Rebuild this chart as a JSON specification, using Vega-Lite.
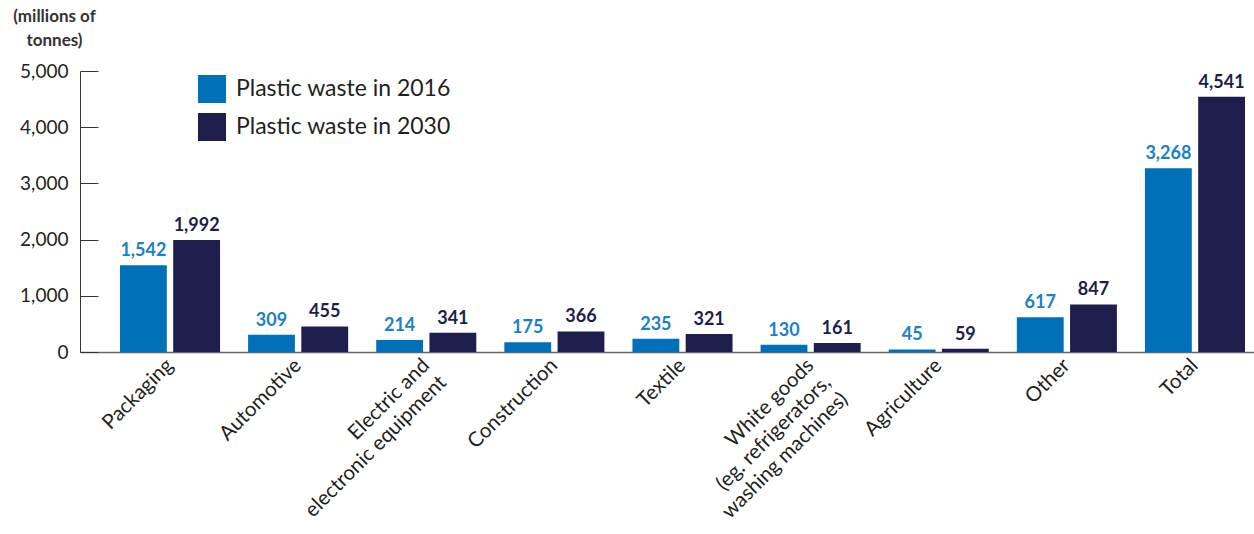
{
  "$schema": "https://vega.github.io/schema/vega-lite/v6.json",
  "autosize": {"type": "none"},
  "padding": {"left": 80, "top": 71, "right": 0, "bottom": 182},
  "width": 1205,
  "height": 281,
  "background": "white",
  "config": {
    "font": "Lato",
    "view": {"stroke": null},
    "axis": {"grid": false}
  },
  "data": {
    "values": [
      {"sector": "Packaging", "year": "Plastic waste in 2016", "value": 1542},
      {"sector": "Packaging", "year": "Plastic waste in 2030", "value": 1992},
      {"sector": "Automotive", "year": "Plastic waste in 2016", "value": 309},
      {"sector": "Automotive", "year": "Plastic waste in 2030", "value": 455},
      {"sector": "Electric and\nelectronic equipment", "year": "Plastic waste in 2016", "value": 214},
      {"sector": "Electric and\nelectronic equipment", "year": "Plastic waste in 2030", "value": 341},
      {"sector": "Construction", "year": "Plastic waste in 2016", "value": 175},
      {"sector": "Construction", "year": "Plastic waste in 2030", "value": 366},
      {"sector": "Textile", "year": "Plastic waste in 2016", "value": 235},
      {"sector": "Textile", "year": "Plastic waste in 2030", "value": 321},
      {"sector": "White goods\n(eg. refrigerators,\nwashing machines)", "year": "Plastic waste in 2016", "value": 130},
      {"sector": "White goods\n(eg. refrigerators,\nwashing machines)", "year": "Plastic waste in 2030", "value": 161},
      {"sector": "Agriculture", "year": "Plastic waste in 2016", "value": 45},
      {"sector": "Agriculture", "year": "Plastic waste in 2030", "value": 59},
      {"sector": "Other", "year": "Plastic waste in 2016", "value": 617},
      {"sector": "Other", "year": "Plastic waste in 2030", "value": 847},
      {"sector": "Total", "year": "Plastic waste in 2016", "value": 3268},
      {"sector": "Total", "year": "Plastic waste in 2030", "value": 4541}
    ]
  },
  "encoding": {
    "x": {
      "field": "sector",
      "type": "nominal",
      "sort": null,
      "scale": {"paddingInner": 0.219, "paddingOuter": 0.312},
      "axis": {
        "title": null,
        "labelAngle": -45,
        "labelAlign": "right",
        "labelBaseline": "middle",
        "labelFontSize": 20.5,
        "labelColor": "#231f20",
        "labelExpr": "split(datum.label, '\\n')",
        "labelLineHeight": 24,
        "labelPadding": 10,
        "ticks": false,
        "domainColor": "#666666",
        "domainWidth": 1.5,
        "labelLimit": 0
      }
    },
    "xOffset": {
      "field": "year",
      "type": "nominal",
      "scale": {"paddingInner": 0.12, "paddingOuter": 0}
    },
    "y": {
      "field": "value",
      "type": "quantitative",
      "scale": {"domain": [0, 5000], "nice": false},
      "axis": {
        "values": [0, 1000, 2000, 3000, 4000, 5000],
        "format": ",.0f",
        "title": ["(millions of", "tonnes)"],
        "titleAngle": 0,
        "titleAlign": "center",
        "titleBaseline": "top",
        "titleX": -26,
        "titleY": -63,
        "titleFontSize": 17,
        "titleFontWeight": "bold",
        "titleColor": "#333333",
        "titleLineHeight": 24,
        "labelFontSize": 19,
        "labelColor": "#231f20",
        "tickSize": -18,
        "tickColor": "#333333",
        "labelPadding": 30,
        "domainColor": "#333333",
        "domainWidth": 1
      }
    }
  },
  "layer": [
    {
      "mark": {"type": "bar"},
      "encoding": {
        "color": {
          "field": "year",
          "type": "nominal",
          "scale": {"range": ["#0070B8", "#1E1E4C"]},
          "legend": {
            "title": null,
            "orient": "none",
            "legendX": 118,
            "legendY": 4,
            "padding": 0,
            "symbolType": "square",
            "symbolSize": 784,
            "symbolStrokeWidth": 0,
            "rowPadding": 10,
            "labelFontSize": 23,
            "labelColor": "#231f20",
            "labelOffset": 10,
            "labelLimit": 0
          }
        }
      }
    },
    {
      "mark": {"type": "text", "dy": -9, "baseline": "alphabetic", "fontSize": 18, "fontWeight": "bold"},
      "encoding": {
        "text": {"field": "value", "type": "quantitative", "format": ","},
        "color": {
          "field": "year",
          "type": "nominal",
          "scale": {"range": ["#1C80C4", "#1E1E4C"]},
          "legend": null
        }
      }
    }
  ],
  "resolve": {"scale": {"color": "independent"}}
}
